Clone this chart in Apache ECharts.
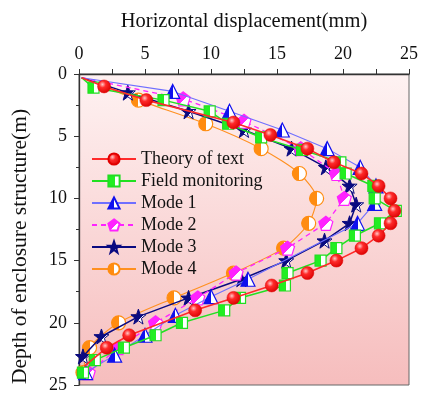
<!DOCTYPE html>
<html>
<head>
<meta charset="utf-8">
<script src="https://cdn.jsdelivr.net/npm/echarts@6/dist/echarts.min.js"></script>
<style>
  html, body { margin: 0; padding: 0; background: #ffffff; }
  #chart { width: 423px; height: 394px; }
</style>
</head>
<body>
<div id="chart"></div>
<script>
// Horizontal displacement (mm) against depth (m) for each calculation method
var theoryDepth = [0.3, 1.0, 2.1, 3.9, 4.9, 6.0, 7.1, 8.0, 9.0, 10.0, 11.0, 12.0, 13.0, 14.0, 15.0, 16.0, 17.0, 18.0, 19.0, 21.0, 22.0, 23.5];
var theoryX     = [0.2, 1.9, 5.1, 11.7, 14.5, 17.3, 19.3, 21.4, 22.7, 23.6, 23.9, 23.6, 22.7, 21.4, 19.5, 17.3, 14.6, 11.7, 8.8, 3.8, 2.1, 0.4];

var fieldDepth = [0.3, 1.1, 2.1, 3.0, 4.0, 5.1, 6.1, 7.1, 8.0, 9.0, 10.0, 11.0, 12.0, 13.0, 14.0, 15.0, 16.0, 17.0, 18.0, 19.0, 20.0, 21.0, 22.0, 23.0, 24.0];
var fieldX     = [0.2, 1.1, 6.4, 9.9, 11.3, 13.8, 16.9, 19.8, 20.2, 22.3, 22.4, 24.0, 22.8, 20.9, 19.5, 18.3, 15.8, 15.6, 12.2, 11.0, 7.8, 5.8, 3.4, 1.2, 0.3];

var mode1Depth = [0.3, 1.4, 3.0, 4.5, 6.0, 7.5, 9.0, 10.4, 12.0, 16.5, 17.9, 19.4, 21.0, 22.6, 24.0];
var mode1X     = [0.2, 7.1, 11.4, 15.4, 18.8, 21.3, 22.5, 22.4, 21.1, 12.8, 10.0, 7.3, 5.0, 2.7, 0.5];

var mode2Depth = [0.3, 2.0, 3.8, 6.0, 8.0, 10.0, 12.0, 14.0, 16.0, 18.0, 20.0, 22.0, 24.0];
var mode2X     = [0.2, 7.9, 12.5, 16.8, 19.5, 20.1, 18.7, 15.8, 11.9, 9.0, 5.8, 3.0, 0.7];

var mode3Depth = [0.3, 1.5, 3.0, 4.5, 6.0, 7.5, 9.0, 10.5, 12.0, 13.4, 15.0, 16.5, 18.0, 19.5, 21.1, 22.7];
var mode3X     = [0.2, 3.7, 8.3, 12.5, 16.1, 18.7, 20.5, 21.0, 20.5, 18.6, 15.7, 12.3, 8.3, 4.5, 1.7, 0.3];

var mode4Depth = [0.3, 2.1, 4.0, 6.0, 8.0, 10.0, 12.0, 14.0, 16.0, 18.0, 20.0, 22.0, 24.0];
var mode4X     = [0.2, 4.5, 9.6, 13.8, 16.7, 18.0, 17.4, 15.5, 11.7, 7.2, 3.0, 0.8, 0.3];

var seriesNames = ['Theory of text', 'Field monitoring', 'Mode 1', 'Mode 2', 'Mode 3', 'Mode 4'];
var xTicks = [0, 5, 10, 15, 20, 25];
var depthTicks = [0, 5, 10, 15, 20, 25];

// [x, depth] pairs; the point at the wall head carries no marker,
// and optionally neither does the last one
function pairs(xs, ds, bareEnd) {
  return xs.map(function (x, i) {
    var item = { value: [x, ds[i]] };
    if (i === 0 || (bareEnd && i === xs.length - 1)) { item.symbol = 'none'; }
    return item;
  });
}

// two-tone fill for the hollow-half markers
function split(color, dir, at) {
  var g = { type: 'linear', x: 0, y: 0, x2: 1, y2: 0, colorStops: [
    { offset: 0, color: color }, { offset: at, color: color },
    { offset: at, color: '#ffffff' }, { offset: 1, color: '#ffffff' }] };
  if (dir === 'diag') { g.y2 = 1; }
  return g;
}

var sphere = { type: 'radial', x: 0.38, y: 0.35, r: 0.7, colorStops: [
  { offset: 0, color: '#ffc8c8' }, { offset: 0.35, color: '#ff2a2a' }, { offset: 1, color: '#d80000' }] };

var pentagon = 'path://M0,-10 L9.51,-3.09 L5.88,8.09 L-5.88,8.09 L-9.51,-3.09 Z';
var star = 'path://M0,-10 L2.35,-3.24 L9.51,-3.09 L3.8,1.24 L5.88,8.09 L0,4 L-5.88,8.09 L-3.8,1.24 L-9.51,-3.09 L-2.35,-3.24 Z';

var serif = 'Liberation Serif';

var option = {
  animation: false,
  backgroundColor: '#ffffff',
  grid: {
    left: 79, right: 14, top: 74, bottom: 5,
    show: true,
    borderColor: '#666666', borderWidth: 1,
    backgroundColor: { type: 'linear', x: 0, y: 0, x2: 0, y2: 1, colorStops: [
      { offset: 0, color: '#fef2f2' }, { offset: 1, color: '#f6bdbd' }] }
  },
  legend: {
    orient: 'vertical',
    left: 86, top: 145,
    itemWidth: 44, itemHeight: 14, itemGap: 4,
    data: seriesNames,
    textStyle: { fontFamily: serif, fontSize: 18, color: '#111111' }
  },
  xAxis: {
    type: 'value', position: 'top',
    min: xTicks[0], max: xTicks[xTicks.length - 1], interval: 5,
    name: 'Horizontal displacement(mm)', nameLocation: 'middle', nameGap: 42,
    nameTextStyle: { fontFamily: serif, fontSize: 20.5, color: '#111111' },
    axisLine: { show: true, lineStyle: { color: '#333333', width: 1.3 } },
    axisTick: { show: true, length: 5, lineStyle: { color: '#333333' } },
    minorTick: { show: true, splitNumber: 2, length: 5, lineStyle: { color: '#333333' } },
    axisLabel: { fontFamily: serif, fontSize: 18, color: '#111111', margin: 11 },
    splitLine: { show: false }
  },
  yAxis: {
    type: 'value', inverse: true,
    min: depthTicks[0], max: depthTicks[depthTicks.length - 1], interval: 5,
    name: 'Depth of enclosure structure(m)', nameLocation: 'middle', nameGap: 48,
    nameTextStyle: { fontFamily: serif, fontSize: 21.5, color: '#111111', padding: [0, 34, 0, 0] },
    axisLine: { show: true, lineStyle: { color: '#333333', width: 1.3 } },
    axisTick: { show: true, length: 5, lineStyle: { color: '#333333' } },
    minorTick: { show: true, splitNumber: 2, length: 3, lineStyle: { color: '#333333' } },
    axisLabel: { fontFamily: serif, fontSize: 18, color: '#111111', margin: 12 },
    splitLine: { show: false }
  },
  series: [
    {
      name: seriesNames[0], type: 'line', data: pairs(theoryX, theoryDepth, true),
      symbol: 'circle', symbolSize: 13,
      lineStyle: { color: '#ff2a2a', width: 1.6 },
      itemStyle: { color: sphere, borderColor: '#e00000', borderWidth: 0.5 },
      z: 7
    },
    {
      name: seriesNames[1], type: 'line', data: pairs(fieldX, fieldDepth),
      symbol: 'rect', symbolSize: 11,
      lineStyle: { color: '#22e022', width: 1.5 },
      itemStyle: { color: split('#22ee22', 'h', 0.55), borderColor: '#22dd22', borderWidth: 1.2 },
      z: 6
    },
    {
      name: seriesNames[2], type: 'line', data: pairs(mode1X, mode1Depth),
      symbol: 'triangle', symbolSize: 14,
      lineStyle: { color: '#6f6fff', width: 1.1 },
      itemStyle: { color: split('#1010ee', 'h', 0.5), borderColor: '#1010ee', borderWidth: 1.2 },
      z: 5
    },
    {
      name: seriesNames[3], type: 'line', data: pairs(mode2X, mode2Depth),
      symbol: pentagon, symbolSize: 14,
      lineStyle: { color: '#ff22ff', width: 1.3, type: [5, 4] },
      itemStyle: { color: split('#ff22ff', 'diag', 0.55), borderColor: '#ff22ff', borderWidth: 1.2 },
      z: 4
    },
    {
      name: seriesNames[4], type: 'line', data: pairs(mode3X, mode3Depth),
      symbol: star, symbolSize: 15,
      lineStyle: { color: '#0a0a80', width: 1.5 },
      itemStyle: { color: split('#0a0a80', 'diag', 0.62), borderColor: '#0a0a80', borderWidth: 1 },
      z: 3
    },
    {
      name: seriesNames[5], type: 'line', data: pairs(mode4X, mode4Depth),
      symbol: 'circle', symbolSize: 14, smooth: 0.25,
      lineStyle: { color: '#ff9020', width: 1.1 },
      itemStyle: { color: split('#ff8c10', 'h', 0.5), borderColor: '#ff8c10', borderWidth: 1.2 },
      z: 2
    }
  ]
};

var chart = echarts.init(document.getElementById('chart'), null, { renderer: 'canvas' });
chart.setOption(option);
</script>
</body>
</html>
